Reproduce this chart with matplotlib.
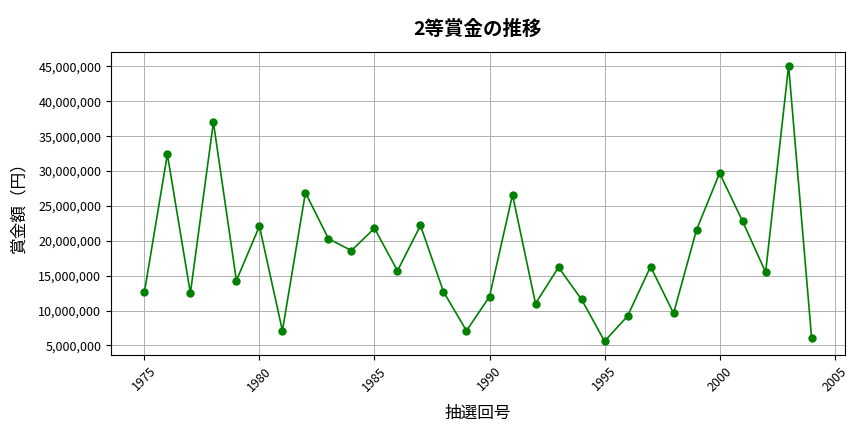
import matplotlib
matplotlib.use("Agg")
import matplotlib.pyplot as plt
from matplotlib.ticker import FuncFormatter

plt.rcParams['font.family'] = ['Noto Sans CJK JP', 'DejaVu Sans']

years = list(range(1975, 2005))
prizes = [12.6, 32.4, 12.5, 37.0, 14.3, 22.1, 7.1, 26.9, 20.3, 18.6,
          21.8, 15.7, 22.2, 12.7, 7.1, 12.0, 26.6, 11.0, 16.2, 11.6,
          5.6, 9.2, 16.3, 9.6, 21.6, 29.7, 22.8, 15.5, 45.1, 6.0]
values = [p * 1_000_000 for p in prizes]

fig = plt.figure(figsize=(8.64, 4.32), dpi=100)
ax = fig.add_axes([111/864, 1-355/432, (845-111)/864, (355-52)/432])
ax.plot(years, values, color='green', marker='o', markersize=5, linewidth=1.2)
ax.grid(True, color='#b0b0b0', linewidth=0.7)
ax.yaxis.set_major_formatter(FuncFormatter(lambda v, p: f"{int(v):,}"))
ax.set_yticks(range(5_000_000, 45_000_001, 5_000_000))
ax.tick_params(axis='x', rotation=45, labelsize=9)
ax.tick_params(axis='y', labelsize=9)
ax.set_title('2等賞金の推移', fontsize=14, fontweight='bold', pad=12)
ax.set_xlabel('抽選回号', fontsize=12, labelpad=8)
ax.set_ylabel('賞金額（円）', fontsize=12, labelpad=8)
fig.savefig('out.png', dpi=100)
